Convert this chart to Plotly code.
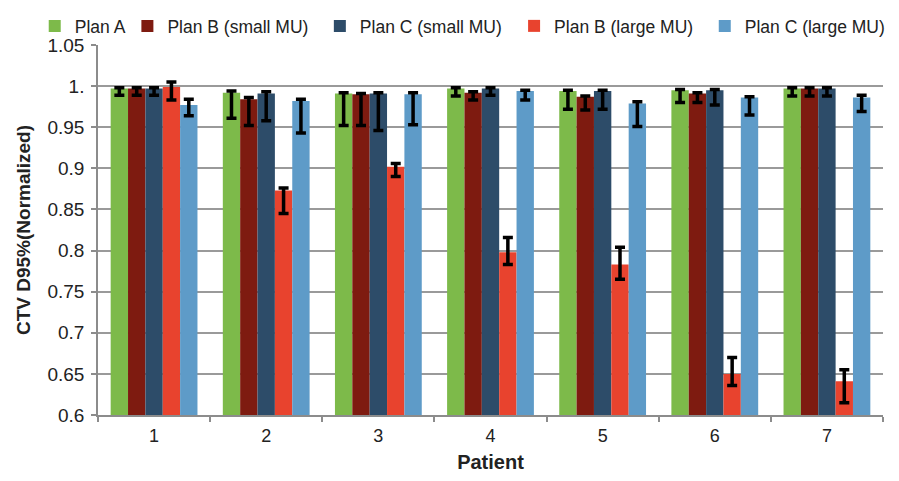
import plotly.graph_objects as go

patients = ["1", "2", "3", "4", "5", "6", "7"]
series_names = ["Plan A", "Plan B (small MU)", "Plan C (small MU)", "Plan B (large MU)", "Plan C (large MU)"]
colors = ["#7dba4a", "#7e1b10", "#2d4c69", "#e8432e", "#5e9bc8"]

plan_a = [0.997, 0.992, 0.991, 0.997, 0.994, 0.995, 0.997]
plan_a_plus = [0.001, 0.002, 0.001, 0.001, 0.001, 0.001, 0.001]
plan_a_minus = [0.008, 0.031, 0.039, 0.009, 0.022, 0.015, 0.009]

plan_b_small = [0.997, 0.984, 0.990, 0.992, 0.987, 0.991, 0.997]
plan_b_small_plus = [0.001, 0.002, 0.001, 0.001, 0.001, 0.001, 0.001]
plan_b_small_minus = [0.008, 0.032, 0.038, 0.009, 0.016, 0.011, 0.009]

plan_c_small = [0.997, 0.991, 0.991, 0.997, 0.994, 0.995, 0.997]
plan_c_small_plus = [0.001, 0.002, 0.001, 0.001, 0.001, 0.001, 0.001]
plan_c_small_minus = [0.008, 0.033, 0.045, 0.008, 0.022, 0.018, 0.009]

plan_b_large = [0.999, 0.873, 0.902, 0.798, 0.783, 0.650, 0.641]
plan_b_large_plus = [0.006, 0.003, 0.004, 0.018, 0.021, 0.020, 0.014]
plan_b_large_minus = [0.016, 0.028, 0.012, 0.015, 0.018, 0.014, 0.026]

plan_c_large = [0.977, 0.982, 0.990, 0.994, 0.979, 0.986, 0.986]
plan_c_large_plus = [0.007, 0.002, 0.002, 0.001, 0.002, 0.001, 0.003]
plan_c_large_minus = [0.013, 0.039, 0.037, 0.011, 0.028, 0.021, 0.017]

y_ticks = [0.6, 0.65, 0.7, 0.75, 0.8, 0.85, 0.9, 0.95, 1.0, 1.05]
y_tick_text = ["0.6", "0.65", "0.7", "0.75", "0.8", "0.85", "0.9", "0.95", "1.", "1.05"]

values = [plan_a, plan_b_small, plan_c_small, plan_b_large, plan_c_large]
plus = [plan_a_plus, plan_b_small_plus, plan_c_small_plus, plan_b_large_plus, plan_c_large_plus]
minus = [plan_a_minus, plan_b_small_minus, plan_c_small_minus, plan_b_large_minus, plan_c_large_minus]

FONT = "Liberation Sans, Arial, sans-serif"
legend_ids = ["legend", "legend2", "legend3", "legend4", "legend5"]
legend_x = [0.030, 0.134, 0.350, 0.568, 0.782]

fig = go.Figure()
for name, col, v, p, m, lg in zip(series_names, colors, values, plus, minus, legend_ids):
    fig.add_trace(go.Bar(
        name=name, x=patients, y=v, marker=dict(color=col, line=dict(width=0)),
        legend=lg, showlegend=True,
        error_y=dict(type="data", symmetric=False, array=p, arrayminus=m,
                     color="black", thickness=3.5, width=5),
    ))

legend_layout = {}
for lg, lx in zip(legend_ids, legend_x):
    legend_layout[lg] = dict(orientation="h", xref="container", yref="container",
                             x=lx, xanchor="left", y=1.0, yanchor="top",
                             font=dict(size=17.5), itemwidth=30,
                             bgcolor="rgba(0,0,0,0)")

# the page body adds an 8px offset, so the figure is 8px smaller than the window
fig.update_layout(
    width=891, height=473,
    margin=dict(l=90, r=16, t=37, b=66, autoexpand=False),
    paper_bgcolor="white", plot_bgcolor="white",
    barmode="group", bargap=0.226, bargroupgap=0,
    showlegend=True,
    font=dict(family=FONT, size=18, color="#222222"),
    xaxis=dict(
        title=dict(text="<b>Patient</b>", font=dict(size=20), standoff=10),
        showline=True, linecolor="#8c8c8c", linewidth=1.5,
        ticks="outside", ticklen=5, tickcolor="#8c8c8c", tickwidth=1.5,
        tickson="boundaries", showgrid=False, automargin=False,
        tickfont=dict(size=18), ticklabelstandoff=4,
    ),
    yaxis=dict(
        title=dict(text="<b>CTV D95%(Normalized)</b>", font=dict(size=19), standoff=12),
        range=[0.6, 1.05], tickvals=y_ticks, ticktext=y_tick_text,
        showline=True, linecolor="#8c8c8c", linewidth=1.5,
        ticks="outside", ticklen=5, tickcolor="#8c8c8c", tickwidth=1.5,
        showgrid=True, gridcolor="#9a9a9a", gridwidth=1.5, automargin=False,
        zeroline=False, tickfont=dict(size=19), ticklabelstandoff=3,
    ),
    **legend_layout,
)

fig.write_html("out.html")
